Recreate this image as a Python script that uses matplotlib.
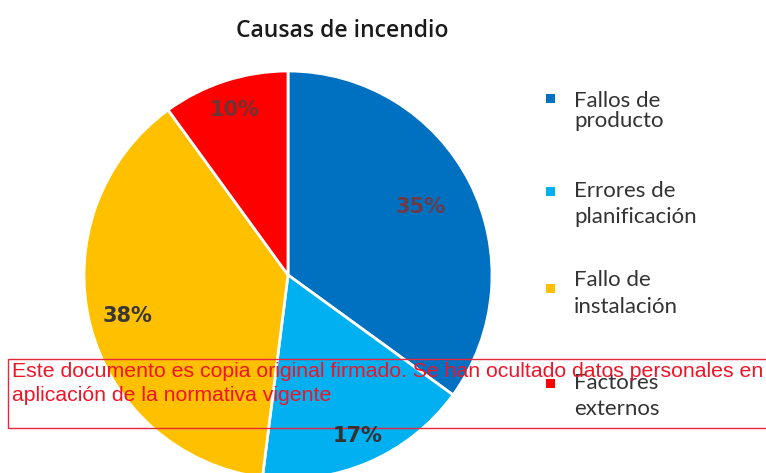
import matplotlib
matplotlib.use("Agg")
import numpy as np
import matplotlib.pyplot as plt
from matplotlib.patches import Rectangle

# Data
categories = ["Fallos de\nproducto", "Errores de\nplanificación",
              "Fallo de\ninstalación", "Factores\nexternos"]
shares = [35, 17, 38, 10]
colors = ["#0070C0", "#00B0F0", "#FFC000", "#FF0000"]
pct_colors = ["#6e3a46", "#333333", "#3a3633", "#6e3434"]

W, H = 766, 473
fig = plt.figure(figsize=(W / 100, H / 100), dpi=100)
fig.patch.set_facecolor("white")
ax = fig.add_axes([0, 0, 1, 1])

cx, cy, R = 288, H - 275, 204
wedges, _ = ax.pie(shares, colors=colors, startangle=90, counterclock=False,
                   center=(cx, cy), radius=R,
                   wedgeprops=dict(edgecolor="white", linewidth=2))
ax.set_xlim(0, W)
ax.set_ylim(0, H)
ax.set_aspect("equal")
ax.axis("off")

# Percentage labels inside the wedges
label_dist = [0.73, 0.86, 0.81, 0.85]
for w, v, f, c in zip(wedges, shares, label_dist, pct_colors):
    ang = np.deg2rad((w.theta1 + w.theta2) / 2)
    ax.text(cx + R * f * np.cos(ang), cy + R * f * np.sin(ang), f"{v}%",
            ha="center", va="center", fontsize=15, fontweight="bold",
            family="DejaVu Sans", color=c)

# Title
ax.text(342, H - 31, "Causas de incendio", ha="center", va="center",
        fontsize=16.5, fontweight="semibold", family="Open Sans", color="#1a1a1a")

# Legend
first_baseline = [107, 197, 286, 389]
line_gap = [20, 26, 27, 26]
square_y = [99, 192, 288, 383]
for lab, col, b, g, sy in zip(categories, colors, first_baseline, line_gap, square_y):
    ax.add_patch(Rectangle((546, H - sy - 4.5), 9, 9, facecolor=col, edgecolor="none"))
    for k, line in enumerate(lab.split("\n")):
        ax.text(574, H - (b + k * g), line, ha="left", va="baseline",
                fontsize=16, family="Lato", color="#333333")

# Stamp overlay
ax.add_patch(Rectangle((8, H - 428), 770, 69, fill=False,
                       edgecolor="#e8283c", linewidth=1, clip_on=False))
ax.text(12, H - 362,
        "Este documento es copia original firmado. Se han ocultado datos personales en\n"
        "aplicación de la normativa vigente",
        ha="left", va="top", fontsize=15.3, family="Liberation Sans",
        color="#f01428", linespacing=1.35)

fig.savefig("out.png", dpi=100, facecolor="white")
